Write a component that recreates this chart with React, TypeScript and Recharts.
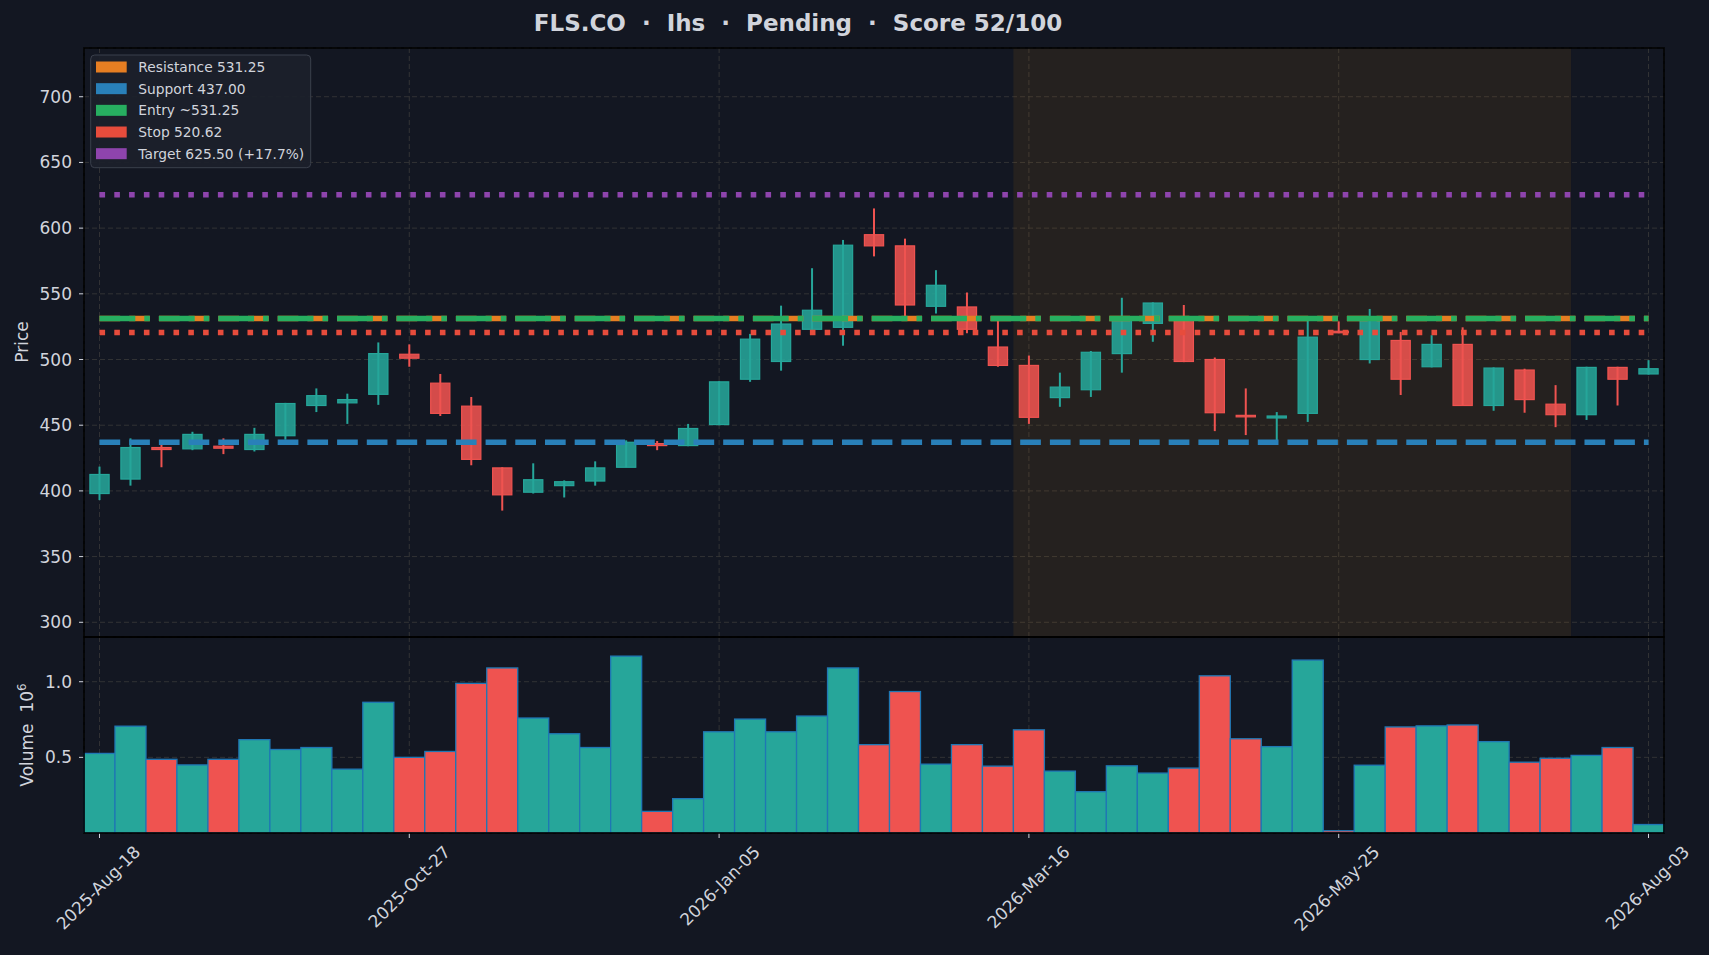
import React from "react"
import { Bar, BarChart, CartesianGrid, ComposedChart, Line, ReferenceArea, XAxis, YAxis } from "recharts"

const dates = [
  "2025-Aug-18", "2025-Aug-25", "2025-Sep-01", "2025-Sep-08", "2025-Sep-15", "2025-Sep-22", "2025-Sep-29",
  "2025-Oct-06", "2025-Oct-13", "2025-Oct-20", "2025-Oct-27", "2025-Nov-03", "2025-Nov-10", "2025-Nov-17",
  "2025-Nov-24", "2025-Dec-01", "2025-Dec-08", "2025-Dec-15", "2025-Dec-22", "2025-Dec-29", "2026-Jan-05",
  "2026-Jan-12", "2026-Jan-19", "2026-Jan-26", "2026-Feb-02", "2026-Feb-09", "2026-Feb-16", "2026-Feb-23",
  "2026-Mar-02", "2026-Mar-09", "2026-Mar-16", "2026-Mar-23", "2026-Mar-30", "2026-Apr-06", "2026-Apr-13",
  "2026-Apr-20", "2026-Apr-27", "2026-May-04", "2026-May-11", "2026-May-18", "2026-May-25", "2026-Jun-01",
  "2026-Jun-08", "2026-Jun-15", "2026-Jun-22", "2026-Jun-29", "2026-Jul-06", "2026-Jul-13", "2026-Jul-20",
  "2026-Jul-27", "2026-Aug-03",
]

const opens = [
  398, 409, 433, 432, 434, 431.5, 442, 465, 467, 473.5, 504, 482, 464.5, 417.5, 399, 404, 407.5,
  418, 436, 434.5, 450.5, 485, 498.5, 523, 524.5, 595, 586.5, 540.5, 540, 509.5, 495.5, 471, 477,
  504.5, 527.5, 531, 500, 457.5, 455.5, 459, 521.5, 500, 514.5, 494.5, 511.5, 465, 492, 466, 458,
  494, 489,
]
const highs = [
  418.5, 440, 435, 445, 440, 448, 467, 478, 474, 513, 511.5, 489, 471.5, 418, 421, 408, 422.5,
  438.5, 438, 451, 483.5, 519.5, 541, 569.5, 591, 615, 592, 568, 551, 530, 503, 490, 506.5,
  547, 543.5, 541.5, 501.5, 478, 460, 530, 529, 538.5, 521, 518.5, 524.5, 494, 493, 480.5, 494.5,
  494.5, 499.5,
]
const lows = [
  393, 404, 418, 431, 428, 430, 439, 460, 451, 465.5, 494.5, 457, 419.5, 385, 398, 395, 404,
  418, 431, 434, 450, 483, 491.5, 522, 510.5, 578.5, 533, 535, 520, 494.5, 451, 464, 471.5,
  490, 513.5, 498, 445.5, 442.5, 437, 452.5, 520, 497, 473, 494, 465, 461, 459.5, 448.5, 454,
  465, 488.5,
]
const closes = [
  412.5, 433, 431.5, 443, 432.5, 443, 466.5, 472.5, 469.5, 504.5, 501, 459, 424, 397, 408.5, 407, 417.5,
  437, 434.5, 447.5, 483, 515.5, 527, 537.5, 587, 586.5, 541.5, 556.5, 523, 495.5, 456, 479, 505.5,
  531.5, 543, 498.5, 459.5, 456.5, 457, 517, 520.5, 530.5, 485, 511.5, 465, 493.5, 469.5, 458, 494,
  485, 493,
]
const volumes = [
  526000, 706000, 487000, 450000, 487000, 617000, 552000, 565000, 422000, 864000, 500000, 539000,
  989000, 1091000, 760000, 656000, 565000, 1169000, 143000, 227000, 669000, 753000, 669000, 773000,
  1091000, 584000, 935000, 455000, 584000, 442000, 682000, 409000, 273000, 444000, 396000, 429000,
  1039000, 623000, 571000, 1143000, 15000, 448000, 701000, 708000, 714000, 604000, 468000, 494000,
  513000, 565000, 56000,
]

const priceTicks = [300, 350, 400, 450, 500, 550, 600, 650, 700]
const volumeTicks = [500000, 1000000]

const RESISTANCE = 531.25
const SUPPORT = 437.0
const ENTRY = 531.25
const STOP = 520.62
const TARGET = 625.5

const patternStart = "2026-Mar-16"
const patternEnd = "2026-Jul-13"

const UP = "#26a69a"
const DOWN = "#ef5350"
const BG = "#131722"
const TEXT = "#d1d4dc"
const GRID = "#3a3a3a"
const FONT = "'DejaVu Sans', sans-serif"

const levels = [
  { key: "res", label: "Resistance 531.25", color: "#e67e22", dash: "20.7 9" },
  { key: "sup", label: "Support 437.00", color: "#2980b9", dash: "20.7 9" },
  { key: "entry", label: "Entry ~531.25", color: "#27ae60", dash: "35.8 9 5.6 9" },
  { key: "stop", label: "Stop 520.62", color: "#e74c3c", dash: "5.6 9.2" },
  { key: "target", label: "Target 625.50 (+17.7%)", color: "#8e44ad", dash: "5.6 9.2" },
]

const rows = dates.map((date, i) => ({
  date,
  open: opens[i],
  high: highs[i],
  low: lows[i],
  close: closes[i],
  range: [lows[i], highs[i]],
  volume: volumes[i],
  res: RESISTANCE,
  sup: SUPPORT,
  entry: ENTRY,
  stop: STOP,
  target: TARGET,
}))

function Candle(props: any) {
  const { x, y, width, height, payload } = props
  const top = Math.min(y, y + height)
  const h = Math.abs(height)
  const { open, close, high, low } = payload
  const py = (v: number) => top + ((high - v) / (high - low)) * h
  const color = close >= open ? UP : DOWN
  const cx = x + width / 2
  const bw = width * 0.62
  const bTop = py(Math.max(open, close))
  const bBot = py(Math.min(open, close))
  return (
    <g>
      <line x1={cx} x2={cx} y1={top} y2={top + h} stroke={color} strokeWidth={2} />
      <rect
        x={cx - bw / 2}
        y={bTop}
        width={bw}
        height={Math.max(bBot - bTop, 1.5)}
        fill={color}
        fillOpacity={0.88}
        stroke={color}
        strokeWidth={1.2}
      />
    </g>
  )
}

function VolumeBar(props: any) {
  const { x, y, width, height, payload } = props
  const color = payload.close >= payload.open ? UP : DOWN
  return <rect x={x} y={y} width={width} height={height} fill={color} stroke="#1f77b4" strokeWidth={1.3} />
}

function DateTick(props: any) {
  const { x, y, payload } = props
  const ax = x + 42
  const ay = y + 13
  return (
    <text
      x={ax}
      y={ay}
      transform={`rotate(-45 ${ax} ${ay})`}
      textAnchor="end"
      fill={TEXT}
      fontSize={17}
      fontFamily={FONT}
    >
      {payload.value}
    </text>
  )
}

const tickStyle = { fill: TEXT, fontSize: 17, fontFamily: FONT }

export default function App() {
  return (
    <div
      style={{
        position: "absolute",
        left: 0,
        top: 0,
        width: 1709,
        height: 955,
        background: BG,
        overflow: "hidden",
        fontFamily: FONT,
      }}
    >
      <div style={{ position: "absolute", left: 0, top: 0 }}>
        <ComposedChart
          width={1709}
          height={637}
          data={rows}
          margin={{ top: 48, right: 45, bottom: 0, left: 24 }}
          barCategoryGap="0%"
        >
          <CartesianGrid stroke={GRID} strokeOpacity={0.8} strokeDasharray="5 3" />
          <XAxis dataKey="date" hide interval={9} />
          <YAxis
            width={60}
            domain={[288.8, 737.1]}
            ticks={priceTicks}
            allowDataOverflow
            axisLine={false}
            tickSize={5}
            tickMargin={7}
            tickLine={{ stroke: TEXT }}
            tick={tickStyle}
          />
          <ReferenceArea x1={patternStart} x2={patternEnd} fill="#ff9800" fillOpacity={0.08} stroke="none" />
          <Bar dataKey="range" shape={Candle} isAnimationActive={false} />
          {levels.map((l) => (
            <Line
              key={l.key}
              dataKey={l.key}
              type="linear"
              stroke={l.color}
              strokeWidth={5.5}
              strokeDasharray={l.dash}
              dot={false}
              activeDot={false}
              isAnimationActive={false}
            />
          ))}
        </ComposedChart>
      </div>
      <div style={{ position: "absolute", left: 0, top: 637 }}>
        <BarChart
          width={1709}
          height={318}
          data={rows}
          margin={{ top: 0, right: 45, bottom: 0, left: 24 }}
          barCategoryGap="0%"
          barGap={0}
        >
          <CartesianGrid stroke={GRID} strokeOpacity={0.8} strokeDasharray="5 3" />
          <XAxis
            dataKey="date"
            interval={9}
            height={122}
            axisLine={false}
            tickSize={5}
            tickMargin={2}
            tickLine={{ stroke: TEXT }}
            tick={<DateTick />}
          />
          <YAxis
            width={60}
            domain={[0, 1295500]}
            ticks={volumeTicks}
            allowDataOverflow
            axisLine={false}
            tickSize={5}
            tickMargin={7}
            tickLine={{ stroke: TEXT }}
            tick={tickStyle}
            tickFormatter={(v: number) => (v / 1e6).toFixed(1)}
          />
          <Bar dataKey="volume" shape={VolumeBar} isAnimationActive={false} />
        </BarChart>
      </div>
      <svg
        width={1709}
        height={955}
        style={{ position: "absolute", left: 0, top: 0, pointerEvents: "none" }}
        fontFamily={FONT}
      >
        <rect x={84} y={48} width={1580} height={589} fill="none" stroke="#000" strokeWidth={1.6} />
        <rect x={84} y={637} width={1580} height={196} fill="none" stroke="#000" strokeWidth={1.6} />
        <text
          x={798}
          y={31}
          textAnchor="middle"
          fontSize={23}
          fontWeight="bold"
          fill={TEXT}
          style={{ whiteSpace: "pre" }}
        >
          {"FLS.CO  ·  Ihs  ·  Pending  ·  Score 52/100"}
        </text>
        <text x={28} y={342} transform="rotate(-90 28 342)" textAnchor="middle" fontSize={17} fill={TEXT}>
          Price
        </text>
        <text
          x={33}
          y={735}
          transform="rotate(-90 33 735)"
          textAnchor="middle"
          fontSize={17}
          fill={TEXT}
          style={{ whiteSpace: "pre" }}
        >
          {"Volume  10"}
          <tspan dy={-7} fontSize={12}>
            6
          </tspan>
        </text>
        <rect x={90.7} y={55} width={220} height={112.7} rx={4} fill="#1c202b" fillOpacity={0.93} stroke="#3b404c" />
        {levels.map((l, i) => {
          const cy = 67 + i * 21.67
          return (
            <g key={l.key}>
              <rect x={96} y={cy - 5.5} width={30.7} height={11} fill={l.color} />
              <text x={138.3} y={cy + 5} fontSize={13.8} fill={TEXT}>
                {l.label}
              </text>
            </g>
          )
        })}
      </svg>
    </div>
  )
}
